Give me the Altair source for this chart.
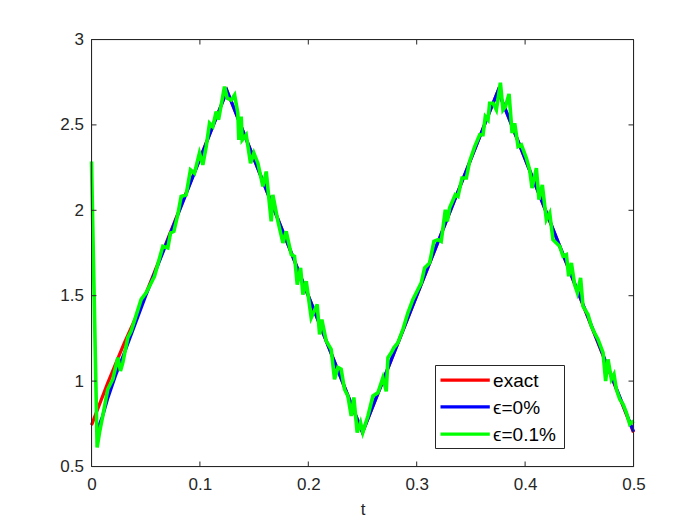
import altair as alt
import pandas as pd

# ---------------- data ----------------
x_ticks = [0, 0.1, 0.2, 0.3, 0.4, 0.5]
y_ticks = [0.5, 1, 1.5, 2, 2.5, 3]

red_t = [0.0, 0.015, 0.030, 0.045, 0.125, 0.250, 0.375, 0.500]
red_v = [0.742, 0.990, 1.220, 1.430, 2.700, 0.700, 2.700, 0.700]

blue_t = [0.0045, 0.010, 0.015, 0.022, 0.030, 0.040, 0.050, 0.125, 0.250, 0.375, 0.500]
blue_v = [0.700, 0.790, 0.900, 1.030, 1.160, 1.330, 1.500, 2.700, 0.700, 2.700, 0.705]

green_t = [
    0.0, 0.0052, 0.0074, 0.0104, 0.0150, 0.0197, 0.0243, 0.0267, 0.0289, 0.0335,
    0.0366, 0.0458, 0.0504, 0.0581, 0.0658, 0.0704, 0.0729, 0.0760, 0.0796,
    0.0827, 0.0873, 0.0913, 0.0950, 0.0996, 0.1027, 0.1058, 0.1089, 0.1119, 0.1150,
    0.1172, 0.1227, 0.1252, 0.1289, 0.1320, 0.1350, 0.1359, 0.1381, 0.1390, 0.1427,
    0.1467, 0.1498, 0.1535, 0.1581, 0.1612, 0.1633, 0.1658, 0.1673,
    0.1720, 0.1766, 0.1796, 0.1843, 0.1873, 0.1898, 0.1929, 0.1950, 0.1981, 0.2027,
    0.2082, 0.2104, 0.2125, 0.2165, 0.2211, 0.2242, 0.2273, 0.2303, 0.2334, 0.2365,
    0.2396, 0.2420, 0.2451, 0.2482, 0.2503,
    0.2550, 0.2596, 0.2642, 0.2688, 0.2719, 0.2735, 0.2765, 0.2789, 0.2827, 0.2873,
    0.2919, 0.2965, 0.3011, 0.3042, 0.3073, 0.3119, 0.3159, 0.3196, 0.3226, 0.3264,
    0.3282, 0.3303,
    0.3356, 0.3381, 0.3418, 0.3458, 0.3488, 0.3535, 0.3581, 0.3612, 0.3633, 0.3658,
    0.3673, 0.3704, 0.3735, 0.3772, 0.3796, 0.3818, 0.3852, 0.3880, 0.3904, 0.3935,
    0.3966, 0.4012, 0.4042, 0.4064, 0.4104, 0.4128, 0.4159,
    0.4196, 0.4227, 0.4257, 0.4288, 0.4319, 0.4350, 0.4381, 0.4402, 0.4427, 0.4457,
    0.4482, 0.4512, 0.4534, 0.4580, 0.4611, 0.4648, 0.4673, 0.4719, 0.4743, 0.4765,
    0.4796, 0.4820, 0.4842, 0.4873, 0.4904, 0.4934, 0.4965, 0.5000,
]
green_v = [
    2.286, 0.611, 0.699, 0.796, 0.952, 1.011, 1.137, 1.059, 1.108, 1.254,
    1.293, 1.478, 1.517, 1.614, 1.789, 1.780, 1.867, 1.877, 1.974,
    2.081, 2.090, 2.237, 2.217, 2.335, 2.266, 2.373, 2.510, 2.490, 2.578,
    2.530, 2.724, 2.656, 2.646, 2.675, 2.568, 2.412, 2.549, 2.412, 2.442,
    2.276, 2.335, 2.276, 2.140, 2.227, 2.091, 1.935, 2.090,
    1.935, 1.809, 1.877, 1.741, 1.730, 1.565, 1.663, 1.507, 1.585, 1.371,
    1.449, 1.273, 1.360, 1.235, 1.186, 1.011, 1.080, 1.070, 0.952, 0.913,
    0.796, 0.904, 0.699, 0.757, 0.700,
    0.796, 0.913, 0.932, 1.020, 0.940, 1.137, 1.166, 1.195, 1.225, 1.303,
    1.400, 1.478, 1.536, 1.575, 1.663, 1.692, 1.818, 1.828, 1.818, 2.003,
    1.935, 2.013,
    2.091, 2.081, 2.189, 2.189, 2.286, 2.373, 2.442, 2.442, 2.549, 2.530,
    2.627, 2.627, 2.588, 2.747, 2.588, 2.607, 2.681, 2.452, 2.510, 2.373,
    2.383, 2.305, 2.237, 2.130, 2.247, 2.062, 2.149,
    1.945, 1.984, 1.828, 1.809, 1.790, 1.731, 1.740, 1.614, 1.692, 1.565,
    1.517, 1.604, 1.439, 1.390, 1.322, 1.273, 1.244, 1.167, 1.000, 1.127,
    1.011, 1.040, 0.952, 0.894, 0.864, 0.816, 0.748, 0.767,
]

legend_labels = ["exact", "\u03f5=0%", "\u03f5=0.1%"]
legend_colors = ["#FF0000", "#0000FF", "#00FF00"]

# ---------------- styling ----------------
W, H = 542, 427
AX = "#262626"
FONT = "Liberation Sans"

xs = alt.Scale(domain=[0, 0.5], nice=False, zero=False)
ys = alt.Scale(domain=[0.5, 3], nice=False, zero=False)

x_axis = alt.Axis(values=x_ticks, labelExpr="datum.value + ''", title="t",
                  grid=False, ticks=False, domain=False,
                  labelFont=FONT, labelFontSize=17, labelColor=AX, labelPadding=10,
                  titleFont=FONT, titleFontSize=17, titleFontWeight="normal",
                  titleColor=AX, titlePadding=9, labelFlush=False)
y_axis = alt.Axis(values=y_ticks, labelExpr="datum.value + ''", title=None,
                  grid=False, ticks=False, domain=False,
                  labelFont=FONT, labelFontSize=17, labelColor=AX, labelPadding=8,
                  labelFlush=False)

X = alt.X("t:Q", scale=xs, axis=x_axis)
Y = alt.Y("v:Q", scale=ys, axis=y_axis)


def series(t, v, color, w):
    df = pd.DataFrame({"t": t, "v": v})
    return alt.Chart(df).mark_line(color=color, strokeWidth=w).encode(x=X, y=Y)


layers = [
    series(red_t, red_v, legend_colors[0], 3.2),
    series(blue_t, blue_v, legend_colors[1], 3.2),
    series(green_t, green_v, legend_colors[2], 3.6),
]

# axes frame (box on)
one = pd.DataFrame({"k": [0]})
layers.append(
    alt.Chart(one).mark_rect(fillOpacity=0, stroke=AX, strokeWidth=1).encode(
        x=alt.value(0), x2=alt.value(W), y=alt.value(0), y2=alt.value(H))
)

# inward ticks (MATLAB style) on all four sides
xt = pd.DataFrame({"t": x_ticks})
yt = pd.DataFrame({"v": y_ticks})
TL = 5
layers += [
    alt.Chart(xt).mark_rule(color=AX, strokeWidth=1).encode(x=X, y=alt.value(H), y2=alt.value(H - TL)),
    alt.Chart(xt).mark_rule(color=AX, strokeWidth=1).encode(x=X, y=alt.value(0), y2=alt.value(TL)),
    alt.Chart(yt).mark_rule(color=AX, strokeWidth=1).encode(y=Y, x=alt.value(0), x2=alt.value(TL)),
    alt.Chart(yt).mark_rule(color=AX, strokeWidth=1).encode(y=Y, x=alt.value(W), x2=alt.value(W - TL)),
]

# legend box
LX0, LX1, LY0, LY1 = 344, 473, 326, 409
layers.append(
    alt.Chart(one).mark_rect(fill="white", stroke=AX, strokeWidth=1).encode(
        x=alt.value(LX0), x2=alt.value(LX1), y=alt.value(LY0), y2=alt.value(LY1))
)
row_y = [340.6, 367.3, 394.6]
for lab, col, ry in zip(legend_labels, legend_colors, row_y):
    d = pd.DataFrame({"label": [lab]})
    layers.append(alt.Chart(d).mark_rule(color=col, strokeWidth=3.2).encode(
        x=alt.value(349), x2=alt.value(398.3), y=alt.value(ry)))
    layers.append(alt.Chart(d).mark_text(align="left", baseline="middle", font=FONT,
                                         fontSize=19, color="black").encode(
        x=alt.value(401.6), y=alt.value(ry + 1), text="label:N"))

chart = alt.layer(*layers).properties(
    width=W, height=H,
    autosize=alt.AutoSizeParams(type="none"),
    padding={"left": 83.5, "top": 31.5, "right": 40, "bottom": 70},
).configure_view(strokeWidth=0).configure(background="white")

chart.save("out.html", embed_options={"renderer": "svg", "actions": False})
